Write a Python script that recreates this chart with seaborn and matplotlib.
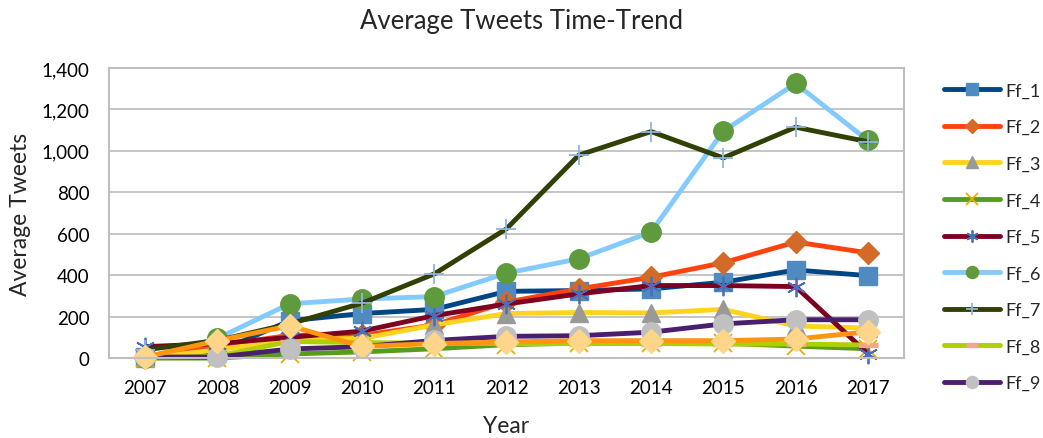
import matplotlib
matplotlib.use("Agg")
import matplotlib.pyplot as plt
import seaborn as sns
import pandas as pd
from matplotlib.ticker import FuncFormatter

years = [2007, 2008, 2009, 2010, 2011, 2012, 2013, 2014, 2015, 2016, 2017]
ff_1 = [5, 30, 180, 215, 235, 322, 326, 334, 366, 425, 398]
ff_2 = [0, 60, 110, 110, 160, 270, 334, 390, 460, 560, 508]
ff_3 = [0, 40, 90, 95, 160, 215, 220, 218, 235, 155, 145]
ff_4 = [0, 0, 20, 30, 45, 65, 72, 72, 72, 58, 45]
ff_5 = [55, 70, 100, 130, 205, 261, 310, 350, 350, 345, 22]
ff_6 = [0, 95, 262, 285, 297, 410, 479, 608, 1095, 1325, 1050]
ff_7 = [40, 85, 165, 265, 406, 624, 979, 1093, 966, 1114, 1044]
ff_8 = [0, 10, 80, 75, 72, 70, 70, 70, 68, 68, 63]
ff_9 = [5, 5, 44, 55, 85, 105, 108, 125, 165, 185, 185]
ff_10 = [5, 84, 156, 56, 70, 78, 84, 84, 84, 92, 127]
names = ["Ff_1", "Ff_2", "Ff_3", "Ff_4", "Ff_5", "Ff_6", "Ff_7", "Ff_8", "Ff_9", "Ff_10"]
series = [ff_1, ff_2, ff_3, ff_4, ff_5, ff_6, ff_7, ff_8, ff_9, ff_10]
yticks = [0, 200, 400, 600, 800, 1000, 1200, 1400]

styles = {
    "Ff_1": dict(color="#004586", marker="s", mfc="#4f8bc0", mec="#4f8bc0", ms=13, mew=1),
    "Ff_2": dict(color="#ff420e", marker="D", mfc="#d46a28", mec="#d46a28", ms=11, mew=1),
    "Ff_3": dict(color="#ffd320", marker="^", mfc="#999999", mec="#999999", ms=13, mew=1),
    "Ff_4": dict(color="#579d1c", marker="x", mfc="#e6b000", mec="#e6b000", ms=13, mew=1.3),
    "Ff_5": dict(color="#7e0021", marker=(6, 2, 0), mfc="#4a6fb8", mec="#4a6fb8", ms=14, mew=1.3),
    "Ff_6": dict(color="#83caff", marker="o", mfc="#5f9a3c", mec="#5f9a3c", ms=14, mew=1),
    "Ff_7": dict(color="#314004", marker="+", mfc="#8fb4e0", mec="#8fb4e0", ms=14, mew=1.3),
    "Ff_8": dict(color="#aecf00", marker="_", mfc="#f0a988", mec="#f0a988", ms=14, mew=3.8),
    "Ff_9": dict(color="#4b1f6f", marker="o", mfc="#c0c0c0", mec="#c0c0c0", ms=14, mew=1),
    "Ff_10": dict(color="#ff950e", marker="D", mfc="#ffd58a", mec="#ffd58a", ms=12, mew=1),
}

sns.set_theme(style="white")
plt.rcParams['font.family'] = ['Lato', 'DejaVu Sans']

fig = plt.figure(figsize=(10.43, 4.39), dpi=100)
ax = fig.add_axes([0.1045, 0.182, 0.7622, 0.661])

for name, vals in zip(names, series):
    df = pd.DataFrame({"Year": years, "Average Tweets": vals})
    st = styles[name]
    sns.lineplot(data=df, x="Year", y="Average Tweets", ax=ax, color=st["color"],
                 linewidth=3.5, marker=st["marker"], markerfacecolor=st["mfc"],
                 markeredgecolor=st["mec"], markersize=st["ms"], markeredgewidth=st["mew"],
                 label=name, clip_on=False)

ax.set_xlim(years[0] - 0.5, years[-1] + 0.5)
ax.set_ylim(0, 1400)
ax.set_xticks(years)
ax.set_xticklabels([str(y) for y in years])
ax.set_yticks(yticks)
ax.yaxis.set_major_formatter(FuncFormatter(lambda v, p: f"{int(v):,}"))
ax.grid(axis="y", color="#c0c0c0", linewidth=1.3)
ax.set_axisbelow(True)
for sp in ax.spines.values():
    sp.set_color("#bfbfbf")
    sp.set_linewidth(1.5)
ax.tick_params(axis="both", length=0, labelsize=13.5, colors="#000000")
ax.tick_params(axis="x", pad=15)
ax.tick_params(axis="y", pad=14)
ax.set_xlabel("Year", fontsize=16.5, labelpad=14)
ax.set_ylabel("Average Tweets", fontsize=16.5, labelpad=8)
fig.suptitle("Average Tweets Time-Trend", fontsize=18.5, y=0.98)

handles, labels = ax.get_legend_handles_labels()
leg = fig.legend(handles[:9], labels[:9], loc="upper left", bbox_to_anchor=(0.898, 0.826),
                 frameon=False, fontsize=13, handlelength=3.1, labelspacing=1.14,
                 handletextpad=0.3, borderaxespad=0)
for h in leg.legend_handles:
    h.set_markersize(h.get_markersize() * 0.62)
ax.get_legend().remove()

fig.savefig("out.png", dpi=100)
